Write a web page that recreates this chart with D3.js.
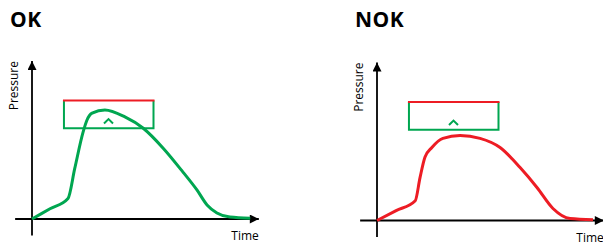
<!DOCTYPE html>
<html>
<head>
<meta charset="utf-8">
<script src="https://cdn.jsdelivr.net/npm/d3@7"></script>
<style>
  body { margin: 0; background: #fff; }
  text { font-family: "Open Sans", sans-serif; }
</style>
</head>
<body>
<svg id="chart" width="603" height="246"></svg>
<script>
'use strict';

// curves (time / pressure in arbitrary 0..100 units)
var okTime      = [0, 8, 16, 19, 22.7, 24.4, 26.7, 32.4, 41.3, 49.3, 58.2, 67.1, 73.3, 77.8, 82.2, 88, 97];
var okPressure  = [0, 6.5, 13, 32, 55, 62.5, 67, 69, 64.6, 57.6, 45, 29.7, 18.4, 8.9, 3.8, 1.2, 0.5];
var nokTime     = [0, 8.5, 17, 19.1, 21.3, 24.4, 29.3, 36.9, 45.8, 54.7, 63.6, 71.1, 78.2, 85.8, 96];
var nokPressure = [0, 6.3, 12.5, 27, 40, 46.2, 52, 53.8, 52, 46.2, 33.5, 20.9, 7.6, 1.2, 0.5];

// tolerance window: time from/to, pressure low/high, and caret mark
var windowTime     = [14.2, 54];
var windowPressure = [57.5, 75];
var caretPoint     = [34, 62];

var titles = ['OK', 'NOK'];
var axisLabels = ['Pressure', 'Time'];

var green = '#00a650', red = '#ed1c24';

var panels = [
  { title: titles[0], time: okTime, pressure: okPressure, color: green, ox: 32, oy: 219 },
  { title: titles[1], time: nokTime, pressure: nokPressure, color: red, ox: 377, oy: 220.5 }
];

var svg = d3.select('#chart');

var defs = svg.append('defs');
defs.append('marker')
  .attr('id', 'arrow')
  .attr('viewBox', '0 0 10 10')
  .attr('refX', 10).attr('refY', 5)
  .attr('markerUnits', 'userSpaceOnUse')
  .attr('markerWidth', 11).attr('markerHeight', 9)
  .attr('orient', 'auto')
  .append('path')
  .attr('d', 'M0,0L10,5L0,10Z')
  .attr('fill', '#000');

panels.forEach(function(p){
  var x = d3.scaleLinear().domain([0, 100]).range([p.ox, p.ox + 225]);
  var y = d3.scaleLinear().domain([0, 100]).range([p.oy, p.oy - 158]);
  var g = svg.append('g');

  g.append('text')
    .attr('x', p.ox - 22)
    .attr('y', 27)
    .style('font-size', '21px')
    .style('font-weight', 'bold')
    .style('letter-spacing', '0.5px')
    .text(p.title);

  // axes
  g.append('line')
    .attr('x1', x(0)).attr('y1', y(-10.5))
    .attr('x2', x(0)).attr('y2', y(100))
    .attr('stroke', '#000').attr('stroke-width', 1.8)
    .attr('marker-end', 'url(#arrow)');
  g.append('line')
    .attr('x1', x(-7.5)).attr('y1', y(0))
    .attr('x2', x(100.8)).attr('y2', y(0))
    .attr('stroke', '#000').attr('stroke-width', 1.8)
    .attr('marker-end', 'url(#arrow)');

  g.append('text')
    .attr('transform', 'translate(' + (p.ox - 14) + ',' + y(100) + ') rotate(-90)')
    .attr('text-anchor', 'end')
    .style('font-size', '12px')
    .text(axisLabels[0]);
  g.append('text')
    .attr('x', x(100.8))
    .attr('y', p.oy + 21)
    .attr('text-anchor', 'end')
    .style('font-size', '12px')
    .text(axisLabels[1]);

  // tolerance window
  var x0 = x(windowTime[0]), x1 = x(windowTime[1]);
  var yLo = y(windowPressure[0]), yHi = y(windowPressure[1]);
  g.append('path')
    .attr('d', 'M' + x0 + ',' + yHi + 'V' + yLo + 'H' + x1 + 'V' + yHi)
    .attr('fill', 'none').attr('stroke', green).attr('stroke-width', 2);
  g.append('line')
    .attr('x1', x0 - 1).attr('y1', yHi)
    .attr('x2', x1 + 1).attr('y2', yHi)
    .attr('stroke', red).attr('stroke-width', 2.2);

  var cx = x(caretPoint[0]), cy = y(caretPoint[1]);
  g.append('path')
    .attr('d', 'M' + (cx - 4.5) + ',' + (cy + 2.5) + 'L' + cx + ',' + (cy - 2) + 'L' + (cx + 4.5) + ',' + (cy + 2.5))
    .attr('fill', 'none').attr('stroke', green).attr('stroke-width', 2);

  // pressure curve
  var line = d3.line()
    .x(function(d){ return x(d[0]); })
    .y(function(d){ return y(d[1]); })
    .curve(d3.curveMonotoneX);

  g.append('path')
    .datum(d3.zip(p.time, p.pressure))
    .attr('d', line)
    .attr('fill', 'none')
    .attr('stroke', p.color)
    .attr('stroke-width', 3)
    .attr('stroke-linejoin', 'round');
});
</script>
</body>
</html>
